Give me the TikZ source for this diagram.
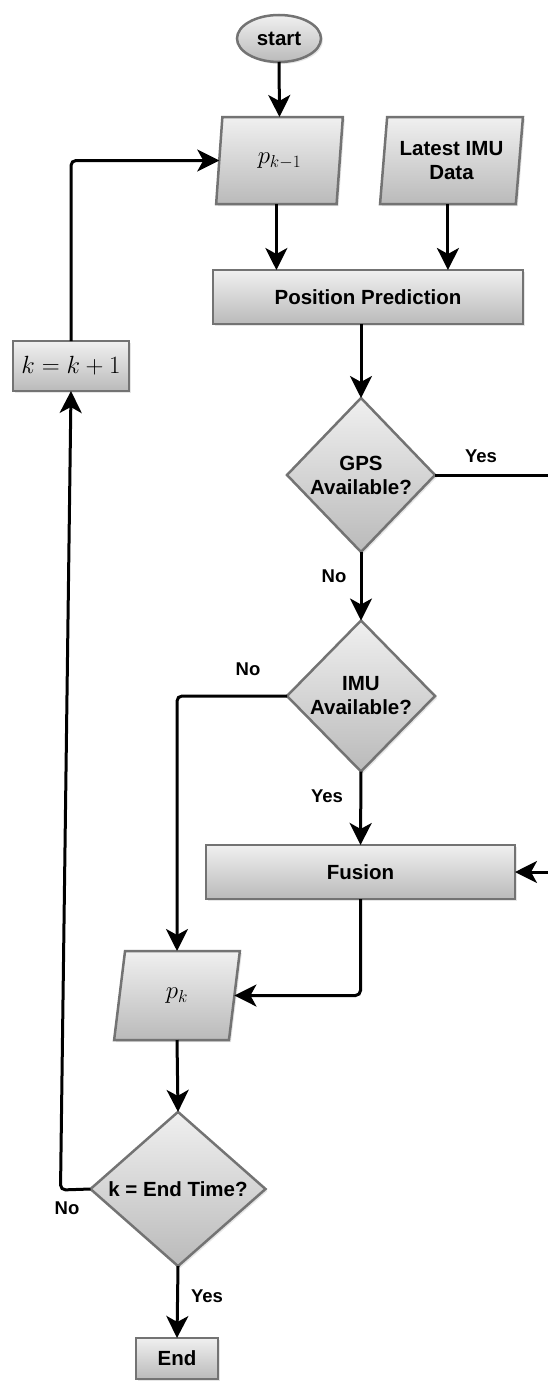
\documentclass[tikz,border=0pt]{standalone}
\usepackage[no-math]{fontspec}
\setmainfont{Liberation Sans}
\usetikzlibrary{shapes.geometric,arrows.meta,shadows}
\definecolor{bord}{RGB}{115,115,115}
\definecolor{topc}{RGB}{240,240,240}
\definecolor{botc}{RGB}{186,186,186}
\begin{document}
\begin{tikzpicture}[x=1pt,y=-1pt,
  box/.style={draw=bord, line width=2.5pt, top color=topc, bottom color=botc,
    inner sep=0pt, outer sep=0pt, align=center,
    font=\fontsize{20.5}{24}\selectfont\bfseries,
    drop shadow={shadow xshift=2pt,shadow yshift=-2pt,opacity=0.2}},
  proc/.style={box, rectangle},
  dec/.style={box, diamond, aspect=1},
  io/.style={box, trapezium, trapezium left angle=81.5, trapezium right angle=98.5, trapezium stretches=true},
  term/.style={box, ellipse},
  mth/.style={font=\fontsize{24.5}{28}\selectfont},
  conn/.style={line width=3pt, -{Stealth[length=22pt,width=22pt,inset=6pt]}, rounded corners=5pt},
  plain/.style={line width=3pt},
  lbl/.style={font=\fontsize{18.5}{22}\selectfont\bfseries, inner sep=0pt}
]
\useasboundingbox (0,0) rectangle (548,1381);

% nodes
\node[term, minimum width=84pt, minimum height=47pt] (start) at (279,38.5) {start};
\node[io, mth, minimum width=127pt, minimum height=87pt] (pkm) at (279.5,160.5) {$p_{k-1}$};
\node[io, minimum width=143pt, minimum height=87pt] (imu) at (451.5,160.5) {Latest IMU\\Data};
\node[proc, minimum width=310pt, minimum height=54pt] (pp) at (368,297) {Position Prediction};
\node[proc, mth, minimum width=116pt, minimum height=50pt] (kk) at (71,366) {$k=k+1$};
\node[dec, minimum width=148pt, minimum height=154pt] (gps) at (361,475) {GPS\\Available?};
\node[dec, minimum width=148pt, minimum height=151pt] (imua) at (361,696) {IMU\\Available?};
\node[proc, minimum width=309pt, minimum height=54pt] (fus) at (360.5,872) {Fusion};
\node[io, mth, minimum width=126pt, minimum height=89pt] (pk) at (177,995.5) {$p_k$};
\node[dec, minimum width=175pt, minimum height=153pt] (et) at (178,1189) {k = End Time?};
\node[proc, minimum width=82pt, minimum height=41pt] (end) at (177,1358.5) {End};

\coordinate (rA) at (548,475);
\coordinate (rB) at (548,872);

% connectors
\draw[conn] (start.south) -- (pkm.north);
\draw[conn] (pkm.bottom side) -- (pkm.bottom side |- pp.north);
\draw[conn] (imu.bottom side) -- (imu.bottom side |- pp.north);
\draw[conn] (pp.south -| gps.north) -- (gps.north);
\draw[plain] (gps.east) -- (rA);
\draw[conn] (gps.south) -- (imua.north);
\draw[conn] (imua.south) -- (fus.north);
\draw[conn] (rB) -- (fus.east);
\draw[conn] (imua.west) -| (pk.north);
\draw[conn] (fus.south) |- (pk.right side);
\draw[conn] (pk.south) -- (et.north);
\draw[conn] (et.south) -- (end.north);
\draw[conn] (et.west) -- ++(-30,1) -- (kk.south);
\draw[conn] (kk.north) |- (pkm.left side);

% labels
\node[lbl] (l1) at (481,456) {Yes};
\node[lbl] (l2) at (334,576) {No};
\node[lbl] (l3) at (248,669) {No};
\node[lbl] (l4) at (327,796) {Yes};
\node[lbl] (l5) at (67,1208) {No};
\node[lbl] (l6) at (207,1296) {Yes};
\end{tikzpicture}
\end{document}
